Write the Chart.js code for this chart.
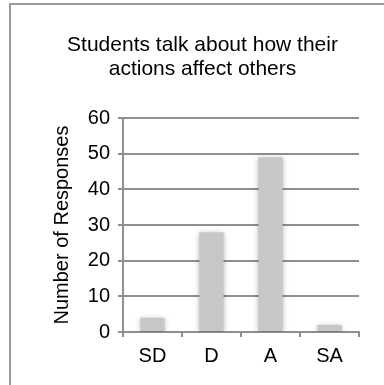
<!DOCTYPE html>
<html>
<head>
<meta charset="utf-8">
<script src="https://cdn.jsdelivr.net/npm/chart.js@4/dist/chart.umd.min.js"></script>
<style>
  html, body { margin: 0; padding: 0; background: #fff; }
  #frame { position: absolute; left: 9px; top: 3px; width: 420px; height: 420px;
           border-left: 2px solid #9a9a9a; border-top: 2px solid #9a9a9a; }
  #wrap { position: absolute; left: 0; top: 0; width: 384px; height: 385px; }
</style>
</head>
<body>
<div id="frame"></div>
<div id="wrap"><canvas id="chart" width="384" height="385"></canvas></div>
<script>
// Likert response counts
const categories = ['SD', 'D', 'A', 'SA'];
const responses = [4, 28, 49, 2];
const titleLines = ['Students talk about how their', 'actions affect others'];
const yAxisTitle = 'Number of Responses';
const yTickValues = [0, 10, 20, 30, 40, 50, 60];

const FONT = '"Liberation Sans", Arial, Helvetica, sans-serif';
const GRID = '#8f8f8f';

// soft drop shadow under the bars
const barShadow = {
  id: 'barShadow',
  beforeDatasetsDraw(chart) {
    const ctx = chart.ctx;
    ctx.save();
    ctx.shadowColor = 'rgba(0,0,0,0.28)';
    ctx.shadowBlur = 5;
    ctx.shadowOffsetX = 0;
    ctx.shadowOffsetY = 1;
  },
  afterDatasetsDraw(chart) {
    chart.ctx.restore();
  }
};

new Chart(document.getElementById('chart'), {
  type: 'bar',
  data: {
    labels: categories,
    datasets: [{
      data: responses,
      backgroundColor: '#c7c7c7',
      borderWidth: 0,
      categoryPercentage: 1,
      barPercentage: 0.41
    }]
  },
  options: {
    responsive: false,
    animation: false,
    devicePixelRatio: 1,
    layout: { padding: { left: 46, right: 25, top: 0, bottom: 0 } },
    plugins: {
      legend: { display: false },
      tooltip: { enabled: false },
      title: {
        display: true,
        text: titleLines,
        color: '#000',
        font: { family: FONT, size: 21, weight: 'normal', lineHeight: 24 / 21 },
        padding: { top: 33, bottom: 37 }
      }
    },
    scales: {
      x: {
        grid: {
          display: true, drawOnChartArea: false, drawTicks: true,
          tickLength: 5, color: GRID, lineWidth: 2, offset: true
        },
        border: { color: GRID, width: 2 },
        ticks: { color: '#000', padding: 7, font: { family: FONT, size: 20 } },
        afterFit(scale) { scale.height = 53; }
      },
      y: {
        min: 0,
        max: 60,
        afterBuildTicks(scale) { scale.ticks = yTickValues.map(v => ({ value: v })); },
        grid: { color: GRID, lineWidth: 2, tickLength: 5, drawTicks: true },
        border: { color: GRID, width: 2 },
        ticks: { color: '#000', padding: 8, font: { family: FONT, size: 20 } },
        title: {
          display: true,
          text: yAxisTitle,
          color: '#000',
          font: { family: FONT, size: 20, weight: 'normal', lineHeight: 1.2 },
          padding: { top: 4, bottom: 0 }
        },
        afterFit(scale) { scale.width = 77; }
      }
    }
  },
  plugins: [barShadow]
});
</script>
</body>
</html>
